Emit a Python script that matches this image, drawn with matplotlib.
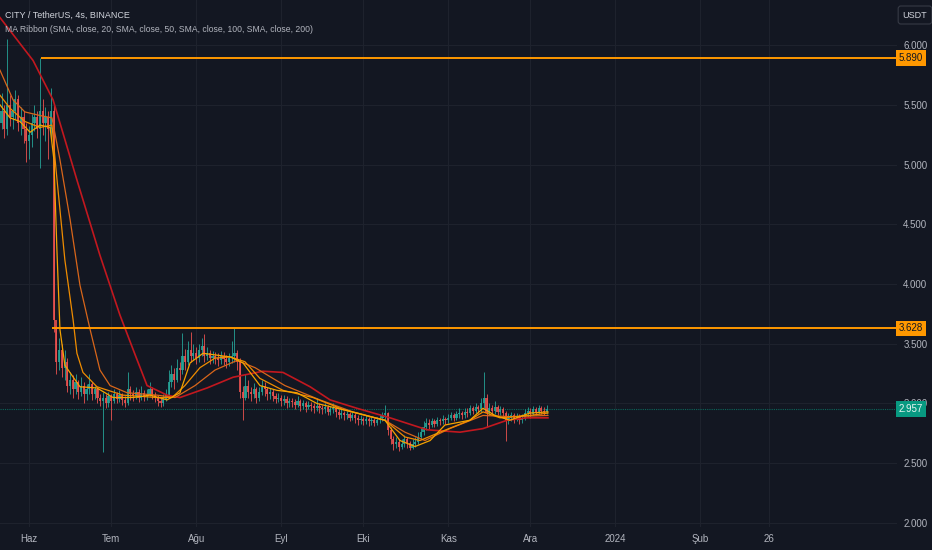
import matplotlib
matplotlib.use("Agg")
import matplotlib.pyplot as plt

plt.rcParams['font.family'] = ['Liberation Sans Narrow', 'Liberation Sans', 'DejaVu Sans']

# x values are days counted from 1 June 2023 (one candle per day, starting 22 May)
first_day = -10
first_open = 5.35
closes = [5.45, 5.30, 5.50, 5.40, 5.45, 5.55, 5.35, 5.40, 5.30, 5.20,
          5.25, 5.35, 5.40, 5.30, 5.45, 5.35, 5.40, 5.30, 5.45, 3.70,
          3.35, 3.45, 3.30, 3.35, 3.15, 3.20, 3.12, 3.18, 3.10, 3.15,
          3.08, 3.12, 3.16, 3.08, 3.12, 3.05, 3.02, 3.05, 3.00, 3.06,
          3.02, 3.08, 3.04, 3.07, 3.03, 3.00, 3.12, 3.08, 3.06, 3.10,
          3.05, 3.09, 3.06, 3.08, 3.12, 3.07, 3.05, 3.02, 3.00, 3.04,
          3.07, 3.18, 3.25, 3.20, 3.30, 3.28, 3.40, 3.35, 3.45, 3.40,
          3.42, 3.38, 3.45, 3.48, 3.40, 3.42, 3.38, 3.40, 3.38, 3.36,
          3.40, 3.37, 3.35, 3.38, 3.40, 3.42, 3.35, 3.10, 3.05, 3.15,
          3.10, 3.08, 3.12, 3.05, 3.10, 3.15, 3.12, 3.08, 3.10, 3.06,
          3.04, 3.05, 3.02, 3.04, 3.00, 3.02, 3.01, 2.99, 3.02, 2.98,
          3.00, 2.97, 2.99, 2.98, 2.96, 2.98, 2.96, 2.95, 2.97, 2.93,
          2.95, 2.96, 2.93, 2.90, 2.92, 2.90, 2.91, 2.88, 2.90, 2.88,
          2.86, 2.87, 2.85, 2.87, 2.85, 2.86, 2.84, 2.86, 2.88, 2.90,
          2.92, 2.78, 2.70, 2.66, 2.68, 2.64, 2.66, 2.70, 2.67, 2.63,
          2.66, 2.68, 2.72, 2.76, 2.80, 2.84, 2.82, 2.85, 2.83, 2.86,
          2.85, 2.87, 2.86, 2.88, 2.90, 2.88, 2.91, 2.92, 2.90, 2.93,
          2.92, 2.96, 2.94, 2.97, 2.95, 3.00, 3.05, 2.92, 2.96, 2.94,
          2.97, 2.93, 2.95, 2.92, 2.85, 2.88, 2.90, 2.87, 2.89, 2.86,
          2.88, 2.92, 2.94, 2.91, 2.95, 2.93, 2.96, 2.94, 2.93, 2.957]
highs = [5.60, 5.50, 6.05, 5.58, 5.55, 5.62, 5.58, 5.48, 5.45, 5.35,
         5.32, 5.42, 5.50, 5.45, 5.89, 5.55, 5.48, 5.45, 5.64, 5.50,
         3.65, 3.55, 3.50, 3.45, 3.38, 3.26, 3.24, 3.25, 3.20, 3.22,
         3.18, 3.16, 3.25, 3.18, 3.15, 3.14, 3.08, 3.10, 3.08, 3.10,
         3.08, 3.12, 3.10, 3.11, 3.09, 3.06, 3.26, 3.15, 3.11, 3.14,
         3.12, 3.15, 3.11, 3.12, 3.18, 3.14, 3.10, 3.07, 3.05, 3.08,
         3.12, 3.28, 3.32, 3.30, 3.37, 3.35, 3.59, 3.46, 3.52, 3.60,
         3.50, 3.47, 3.50, 3.55, 3.58, 3.47, 3.45, 3.44, 3.43, 3.42,
         3.44, 3.43, 3.41, 3.42, 3.52, 3.63, 3.45, 3.38, 3.15, 3.25,
         3.20, 3.14, 3.17, 3.14, 3.14, 3.20, 3.18, 3.14, 3.13, 3.12,
         3.09, 3.09, 3.07, 3.07, 3.06, 3.05, 3.05, 3.04, 3.06, 3.04,
         3.03, 3.02, 3.02, 3.01, 3.00, 3.05, 3.00, 2.99, 3.00, 2.99,
         2.98, 3.00, 2.98, 2.95, 2.95, 2.94, 2.94, 2.93, 2.93, 2.92,
         2.90, 2.90, 2.89, 2.90, 2.89, 2.89, 2.88, 2.89, 2.91, 2.93,
         2.99, 2.93, 2.80, 2.73, 2.72, 2.70, 2.70, 2.74, 2.72, 2.69,
         2.70, 2.72, 2.76, 2.80, 2.85, 2.88, 2.87, 2.88, 2.87, 2.89,
         2.88, 2.90, 2.89, 2.91, 2.93, 2.92, 2.94, 2.96, 2.94, 2.96,
         2.96, 2.99, 2.98, 3.00, 2.99, 3.05, 3.26, 3.08, 3.00, 2.99,
         3.02, 2.99, 2.98, 2.97, 2.94, 2.92, 2.93, 2.92, 2.92, 2.91,
         2.91, 2.95, 2.97, 2.96, 2.98, 2.97, 2.99, 2.98, 2.97, 2.99]
lows = [5.30, 5.22, 5.25, 5.32, 5.30, 5.38, 5.28, 5.25, 5.18, 5.02,
        5.05, 5.15, 5.28, 5.22, 4.97, 5.25, 5.20, 5.05, 5.22, 3.60,
        3.25, 3.28, 3.22, 3.20, 3.10, 3.08, 3.05, 3.08, 3.04, 3.06,
        3.00, 3.03, 3.08, 3.03, 3.04, 3.00, 2.98, 2.59, 2.96, 2.97,
        2.86, 3.00, 3.00, 3.01, 2.99, 2.97, 2.99, 3.03, 3.02, 3.04,
        3.01, 3.03, 3.02, 3.03, 3.06, 3.04, 3.01, 2.98, 2.97, 2.98,
        3.02, 3.05, 3.14, 3.12, 3.18, 3.20, 3.25, 3.28, 3.32, 3.35,
        3.36, 3.33, 3.35, 3.40, 3.35, 3.36, 3.33, 3.34, 3.33, 3.31,
        3.33, 3.32, 3.30, 3.31, 3.34, 3.35, 3.28, 3.05, 2.86, 3.03,
        3.05, 3.02, 3.05, 3.00, 3.02, 3.07, 3.06, 3.03, 3.04, 3.02,
        3.00, 3.01, 2.98, 2.99, 2.96, 2.97, 2.97, 2.95, 2.97, 2.94,
        2.95, 2.93, 2.95, 2.94, 2.92, 2.94, 2.92, 2.91, 2.92, 2.90,
        2.90, 2.92, 2.89, 2.87, 2.88, 2.86, 2.87, 2.85, 2.86, 2.84,
        2.82, 2.83, 2.82, 2.83, 2.81, 2.82, 2.81, 2.82, 2.84, 2.85,
        2.86, 2.74, 2.66, 2.61, 2.63, 2.60, 2.62, 2.64, 2.63, 2.61,
        2.62, 2.64, 2.66, 2.70, 2.74, 2.78, 2.79, 2.80, 2.80, 2.81,
        2.82, 2.83, 2.83, 2.84, 2.86, 2.85, 2.86, 2.88, 2.87, 2.88,
        2.89, 2.90, 2.91, 2.92, 2.92, 2.93, 2.96, 2.80, 2.90, 2.90,
        2.91, 2.90, 2.90, 2.88, 2.69, 2.83, 2.85, 2.84, 2.85, 2.83,
        2.84, 2.86, 2.89, 2.88, 2.90, 2.90, 2.91, 2.91, 2.90, 2.91]

# MA ribbon lines: (day, price)
ma20 = [(-10.6, 5.50), (-6.9, 5.39), (-3.3, 5.36), (0.4, 5.27), (4.0, 5.33), (7.7, 5.31),
        (9.1, 5.04), (10.2, 4.28), (11.3, 3.62), (13.1, 3.32), (18.6, 3.14), (24.8, 3.13),
        (30.7, 3.05), (38.0, 3.05), (44.2, 3.07), (50.4, 3.03), (55.1, 3.09), (58.8, 3.34),
        (63.5, 3.42), (73.4, 3.39), (78.1, 3.34), (84.3, 3.15), (90.5, 3.11), (97.8, 3.09),
        (105.1, 3.00), (112.4, 2.96), (119.7, 2.92), (126.3, 2.88), (129.9, 2.86), (135.4, 2.69),
        (140.9, 2.64), (146.4, 2.69), (151.8, 2.82), (160.9, 2.86), (165.7, 2.96), (170.1, 2.90),
        (175.5, 2.86), (182.8, 2.92), (189.4, 2.93)]
ma50 = [(-10.6, 5.58), (-6.9, 5.47), (-1.5, 5.36), (4.0, 5.31), (8.4, 5.33), (9.9, 4.95),
        (13.1, 4.20), (16.1, 3.70), (17.5, 3.42), (19.7, 3.26), (24.8, 3.14), (34.3, 3.07),
        (46.7, 3.05), (52.2, 3.05), (56.9, 3.15), (62.4, 3.30), (67.9, 3.38), (73.4, 3.39),
        (78.8, 3.35), (84.3, 3.21), (92.7, 3.11), (103.6, 3.05), (114.6, 2.95), (124.5, 2.89),
        (129.9, 2.86), (137.2, 2.72), (142.7, 2.69), (150.0, 2.76), (160.9, 2.86), (165.7, 2.93),
        (171.9, 2.88), (182.8, 2.90), (189.4, 2.92)]
ma100 = [(-10.6, 5.79), (-5.8, 5.54), (-1.5, 5.44), (4.0, 5.41), (8.4, 5.39), (11.3, 5.04),
         (15.0, 4.54), (18.6, 3.99), (22.3, 3.62), (25.9, 3.28), (29.6, 3.15), (35.8, 3.09),
         (46.7, 3.07), (53.3, 3.05), (60.6, 3.15), (67.9, 3.28), (75.9, 3.36), (82.5, 3.30),
         (93.4, 3.15), (106.2, 3.03), (118.2, 2.93), (129.9, 2.86), (137.2, 2.76), (144.5, 2.69),
         (153.6, 2.79), (165.7, 2.90), (175.5, 2.89), (189.4, 2.90)]
ma200 = [(-10.6, 6.23), (1.5, 5.87), (8.8, 5.54), (17.5, 4.87), (25.9, 4.24), (33.2, 3.74),
         (38.7, 3.41), (43.1, 3.15), (50.4, 3.07), (55.1, 3.05), (65.0, 3.13), (74.5, 3.22),
         (85.4, 3.27), (92.7, 3.26), (102.6, 3.14), (109.9, 3.03), (119.7, 2.96), (131.8, 2.88),
         (145.3, 2.78), (157.3, 2.76), (165.7, 2.79), (174.5, 2.86), (181.8, 2.88), (189.4, 2.88)]

levels = [5.890, 3.628]
level_start = [4.4, 8.4]
last_price = 2.957

month_days = [0, 30, 61, 92, 122, 153, 183, 214, 245, 270]
month_labels = ['Haz', 'Tem', 'Ağu', 'Eyl', 'Eki', 'Kas', 'Ara', '2024', 'Şub', '26']
price_ticks = [2.0, 2.5, 3.0, 3.5, 4.0, 4.5, 5.0, 5.5, 6.0]

bg = '#131722'
grid_c = '#1e222d'
text_c = '#b2b5be'
up_c = '#26a69a'
down_c = '#ef5350'

fig = plt.figure(figsize=(9.32, 5.5), dpi=100, facecolor=bg)
ax = fig.add_axes([0, 23 / 550, 897 / 932, 527 / 550])
ax.set_facecolor(bg)
xmin, xmax = -10.58, 316.8
ax.set_xlim(xmin, xmax)
ax.set_ylim(1.9665, 6.3766)

for s in ax.spines.values():
    s.set_visible(False)

ax.set_xticks(month_days)
ax.set_xticklabels(month_labels)
ax.set_yticks(price_ticks)
ax.set_yticklabels(['%.3f' % t for t in price_ticks])
ax.yaxis.tick_right()
ax.tick_params(axis='both', length=0, colors=text_c, labelsize=7)
ax.tick_params(axis='y', pad=4.5)
ax.tick_params(axis='x', pad=5)
ax.grid(True, color=grid_c, linewidth=0.8)
ax.set_axisbelow(True)

# candles
opens = [first_open] + closes[:-1]
days = [first_day + i for i in range(len(closes))]
for d, o, h, l, c in zip(days, opens, highs, lows, closes):
    col = up_c if c >= o else down_c
    ax.vlines(d, l, h, color=col, linewidth=0.7, alpha=0.85, zorder=3)
    ax.bar(d, max(abs(c - o), 0.004), bottom=min(o, c), width=0.8,
           color=col, alpha=0.85, linewidth=0, zorder=3)

# MA ribbon
for pts, col, lw in [(ma200, '#c2181f', 1.2), (ma100, '#d9661a', 0.9),
                     (ma50, '#ef8c00', 0.9), (ma20, '#f5a300', 0.9)]:
    ax.plot([p[0] for p in pts], [p[1] for p in pts], color=col, linewidth=lw, zorder=4)

# horizontal levels
for lv, st in zip(levels, level_start):
    ax.hlines(lv, st, xmax, color='#ff9800', linewidth=1.4, zorder=5)
    ax.text(1.002, lv, '%.3f' % lv, transform=ax.get_yaxis_transform(), ha='left', va='center',
            fontsize=7, color='#131722', zorder=10,
            bbox=dict(boxstyle='square,pad=0.3', fc='#ff9800', ec='none'))

ax.axhline(last_price, color='#089981', linewidth=0.8, linestyle=(0, (1, 1)), alpha=0.6, zorder=2)
ax.text(1.002, last_price, '%.3f' % last_price, transform=ax.get_yaxis_transform(), ha='left',
        va='center', fontsize=7, color='#e8f5f2', zorder=10,
        bbox=dict(boxstyle='square,pad=0.3', fc='#089981', ec='none'))

fig.text(5 / 932, 1 - 15 / 550, 'CITY / TetherUS, 4s, BINANCE', color='#d1d4dc', fontsize=6.5,
         ha='left', va='center')
fig.text(5 / 932, 1 - 30 / 550,
         'MA Ribbon (SMA, close, 20, SMA, close, 50, SMA, close, 100, SMA, close, 200)',
         color=text_c, fontsize=6.2, ha='left', va='center')
fig.text(915 / 932, 1 - 15 / 550, 'USDT', color='#d1d4dc', fontsize=6.5, ha='center', va='center',
         bbox=dict(boxstyle='round,pad=0.5,rounding_size=0.3', fc=bg, ec='#363a45', lw=0.8))

fig.savefig('out.png', dpi=100, facecolor=bg)
